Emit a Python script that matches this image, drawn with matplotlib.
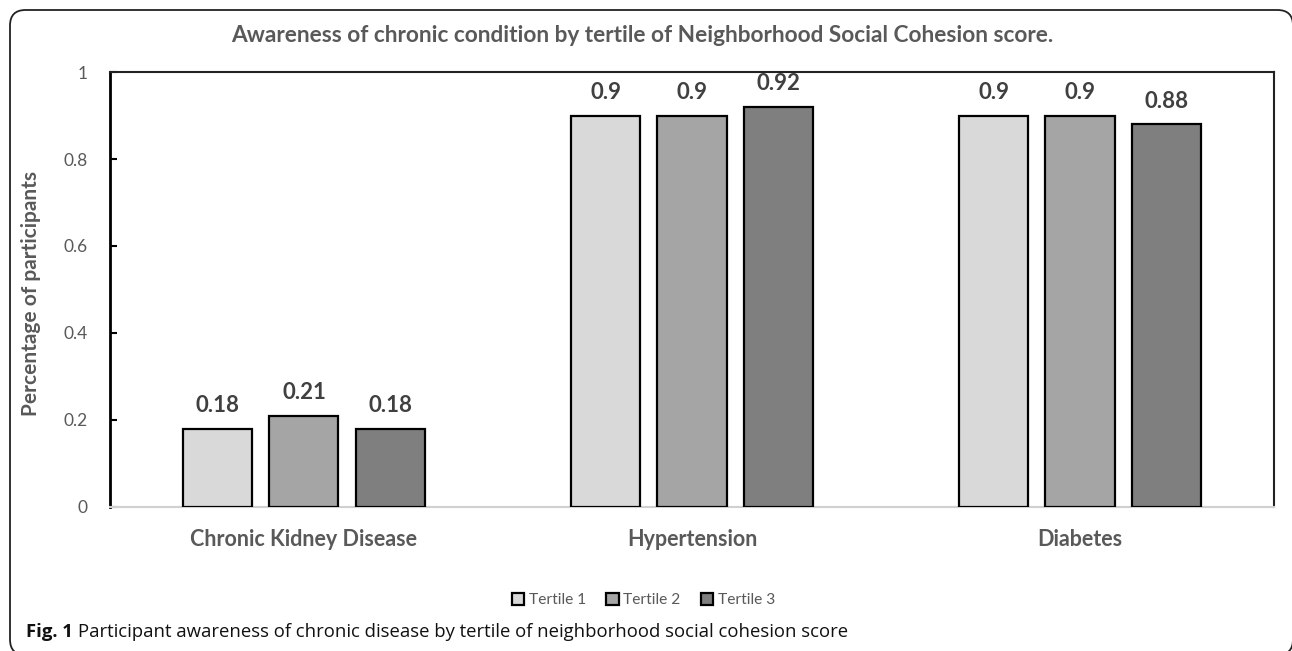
import numpy as np
import matplotlib
matplotlib.use("Agg")
import matplotlib.pyplot as plt
from matplotlib.patches import FancyBboxPatch

categories = ["Chronic Kidney Disease", "Hypertension", "Diabetes"]
series_names = ["Tertile 1", "Tertile 2", "Tertile 3"]
tertile1 = [0.18, 0.9, 0.9]
tertile2 = [0.21, 0.9, 0.9]
tertile3 = [0.18, 0.92, 0.88]
colors = ["#d9d9d9", "#a5a5a5", "#7f7f7f"]
yticks = [0, 0.2, 0.4, 0.6, 0.8, 1]

title = "Awareness of chronic condition by tertile of Neighborhood Social Cohesion score."
caption_bold = "Fig. 1"
caption = "Participant awareness of chronic disease by tertile of neighborhood social cohesion score"

grey = "#595959"
plt.rcParams["font.family"] = ["Lato", "DejaVu Sans"]

fig = plt.figure(figsize=(12.92, 6.51), dpi=100)
ax = fig.add_axes([0.0851, 0.2212, 0.9010, 0.6682])

x = np.arange(len(categories))
width = 0.178
step = 0.222
for i, (vals, name) in enumerate(zip([tertile1, tertile2, tertile3], series_names)):
    pos = x + (i - 1) * step
    ax.bar(pos, vals, width, color=colors[i], edgecolor="black",
           linewidth=1.6, label=name, zorder=3)
    for xp, v in zip(pos, vals):
        ax.annotate(f"{v:g}", (xp, v), xytext=(0, 9), textcoords="offset points",
                    ha="center", va="bottom", fontsize=16, fontweight="bold",
                    color="#404040")

ax.set_xlim(-0.5, 2.5)
ax.set_ylim(0, 1)
ax.set_yticks(yticks)
ax.set_yticklabels([f"{t:g}" for t in yticks])
ax.tick_params(axis="y", direction="in", length=5, width=1.5, colors="black",
               labelcolor=grey, labelsize=12.5, pad=16)
ax.set_xticks(x)
ax.set_xticklabels(categories, fontsize=15.5, fontweight="bold", color=grey)
ax.tick_params(axis="x", length=0, pad=16)

ax.spines["left"].set_linewidth(2)
ax.spines["left"].set_color("black")
ax.spines["bottom"].set_color("#d0d0d0")
ax.spines["bottom"].set_linewidth(1.5)
for s in ["top", "right"]:
    ax.spines[s].set_color("#222222")
    ax.spines[s].set_linewidth(1.5)

ax.set_ylabel("Percentage of participants", fontsize=15, fontweight="bold",
              color=grey)
ax.yaxis.set_label_coords(-0.0595, 0.49)

fig.text(0.497, 1 - 35 / 651, title, ha="center", va="center", fontsize=16.3,
         fontweight="bold", color=grey)

leg = fig.legend(loc="center", bbox_to_anchor=(0.498, 1 - 600 / 651), ncol=3,
                 frameon=False, fontsize=11.2, handlelength=0.8, handleheight=0.8,
                 handletextpad=0.3, columnspacing=1.3)
for t in leg.get_texts():
    t.set_color(grey)

cap = fig.text(26 / 1292, 1 - 632 / 651, caption_bold + " ", ha="left", va="center",
               fontsize=13.3, fontweight="bold", color="#111111",
               family=["Open Sans", "DejaVu Sans"])
fig.canvas.draw()
bb = cap.get_window_extent()
fig.text(bb.x1 / fig.bbox.width, 1 - 632 / 651, caption, ha="left", va="center",
         fontsize=13.3, color="#111111", family=["Open Sans", "DejaVu Sans"])

frame = FancyBboxPatch((10 / 1292, -4 / 651), (1283 / 1292), 1 - 6 / 651,
                       boxstyle="round,pad=0,rounding_size=0.012",
                       transform=fig.transFigure, fill=False,
                       edgecolor="#222222", linewidth=1.3, mutation_aspect=2)
fig.patches.append(frame)

fig.savefig("out.png", dpi=100)
